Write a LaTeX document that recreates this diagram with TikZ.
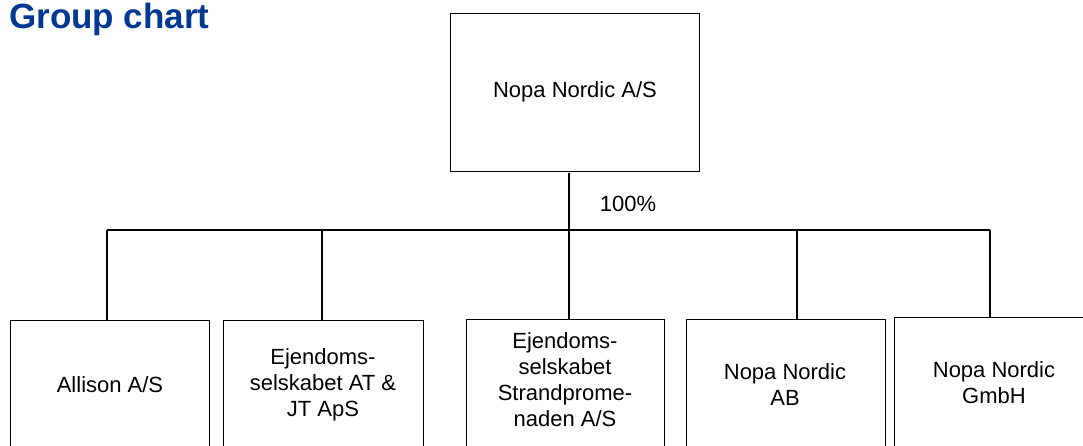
\documentclass[tikz,border=0pt]{standalone}
\usepackage{fontspec}
\setmainfont{Liberation Sans}
\definecolor{titleblue}{RGB}{0,56,147}
\begin{document}
\begin{tikzpicture}[x=1pt,y=-1pt,
  box/.style={draw=black,line width=1pt,rectangle,inner sep=0pt,anchor=north west,minimum width=199,minimum height=150},
  lbl/.style={align=center,font=\fontsize{22}{26}\selectfont,inner sep=0pt},
  link/.style={draw=black,line width=1.6pt}]
\useasboundingbox (0,0) rectangle (1083,445);
\node[anchor=base west,text=titleblue,font=\fontsize{35}{40}\selectfont\bfseries,inner sep=0pt] (title) at (9,28) {Group chart};
% parent
\node[box,minimum width=249,minimum height=158] (top) at (450,13) {};
\node[lbl] (ttop) at (575,92) {Nopa Nordic A/S};
% children
\node[box] (b1) at (10,320) {};
\node[box,minimum width=200] (b2) at (223,320) {};
\node[box,minimum width=198] (b3) at (466,319) {};
\node[box] (b4) at (686,319) {};
\node[box,minimum width=200] (b5) at (894,317) {};
\node[lbl] (t1) at (110,385) {Allison A/S};
\node[lbl] (t2) at (323,385) {Ejendoms-\\selskabet AT \&\\JT ApS};
\node[lbl] (t3) at (565,380) {Ejendoms-\\selskabet\\Strandprome-\\naden A/S};
\node[lbl] (t4) at (785,385) {Nopa Nordic\\AB};
\node[lbl] (t5) at (994,383) {Nopa Nordic\\GmbH};
% connectors
\coordinate (s0) at (569,173);
\coordinate (m) at (569,230);
\coordinate (c1) at (107,230);
\coordinate (c2) at (322,230);
\coordinate (c4) at (797,230);
\coordinate (c5) at (990,230);
\draw[link] (s0) -- (m);
\draw[link] (c1) -- (c5);
\draw[link] (c1) -- (c1 |- b1.north);
\draw[link] (c2) -- (c2 |- b2.north);
\draw[link] (m) -- (m |- b3.north);
\draw[link] (c4) -- (c4 |- b4.north);
\draw[link] (c5) -- (c5 |- b5.north);
\node[lbl] (pct) at (628,204) {100\%};
\end{tikzpicture}
\end{document}
